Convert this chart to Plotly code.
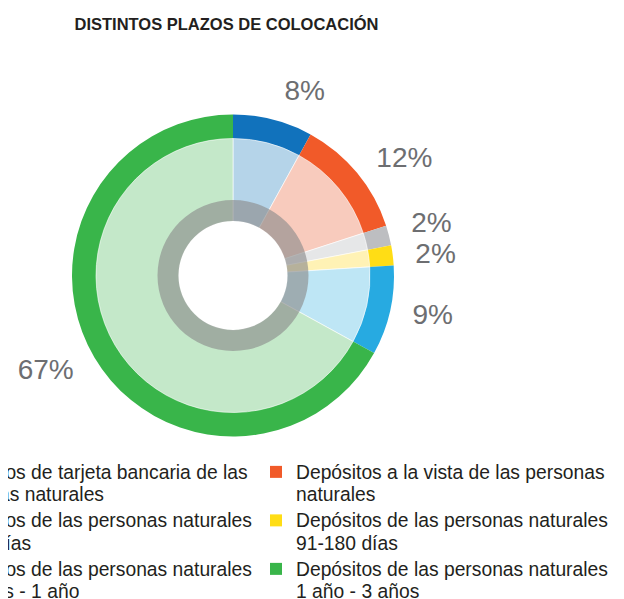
import plotly.graph_objects as go

FW, H = 800, 599          # figure is wider than the 624px window; extra area is off-screen
PLOT_BOTTOM = 446         # pixel y where plot area ends (legend hangs below it)

label_lines = [
    ("Depósitos de tarjeta bancaria de las", "personas naturales"),
    ("Depósitos a la vista de las personas", "naturales"),
    ("Depósitos de las personas naturales", "31-90 días"),
    ("Depósitos de las personas naturales", "91-180 días"),
    ("Depósitos de las personas naturales", "181 días - 1 año"),
    ("Depósitos de las personas naturales", "1 año - 3 años"),
]
values = [8, 12, 2, 2, 9, 67]
title_text = "DISTINTOS PLAZOS DE COLOCACIÓN"

outer_colors = ["#1172BC", "#F15A29", "#BDBEC1", "#FFDD15", "#27AAE1", "#39B54A"]
light_colors = ["#B5D4E9", "#F8CBBD", "#E6E7E8", "#FFF2B5", "#BEE6F5", "#C4E8C9"]
label_color = "#6D6E71"

# legend glyphs are drawn a bit larger than the (line-spacing) base font
span = '<span style="font-size:19.3px">{}</span>'
labels = ["<br>".join(span.format(t) for t in lines) for lines in label_lines]

cx, cy = 225, 267.5  # pixel centre of donut (figure coords)


def dom(r):
    return dict(x=[(cx - r) / FW, (cx + r) / FW],
                y=[(PLOT_BOTTOM - cy - r) / PLOT_BOTTOM, (PLOT_BOTTOM - cy + r) / PLOT_BOTTOM])


common = dict(labels=labels, values=values, sort=False, direction="clockwise",
              rotation=0, hoverinfo="skip")

fig = go.Figure()
fig.add_trace(go.Pie(**common, domain=dom(161), hole=136.5 / 161,
                     marker=dict(colors=outer_colors, line=dict(width=0)),
                     textinfo="none", showlegend=True))
fig.add_trace(go.Pie(**common, domain=dom(137), hole=54.5 / 137,
                     marker=dict(colors=light_colors, line=dict(color="white", width=0.6)),
                     textinfo="none", showlegend=False))
fig.add_trace(go.Pie(labels=["ring"], values=[1], domain=dom(75.5), hole=54.5 / 75.5, sort=False,
                     marker=dict(colors=["rgba(140,140,140,0.63)"], line=dict(width=0)),
                     textinfo="none", showlegend=False, hoverinfo="skip"))
# transparent pie carrying the percentage labels (text colour set via span so no leader line shows)
fig.add_trace(go.Pie(**common, domain=dom(176),
                     marker=dict(colors=["rgba(0,0,0,0)"] * 6, line=dict(width=0)),
                     texttemplate='<span style="color:' + label_color + ';fill-opacity:1">%{value}%</span>',
                     textposition="outside",
                     outsidetextfont=dict(family="Liberation Sans", size=28, color="rgba(0,0,0,0)"),
                     showlegend=False))

fig.update_layout(
    width=FW, height=H,
    margin=dict(l=0, r=0, t=0, b=H - PLOT_BOTTOM, autoexpand=False),
    paper_bgcolor="white", plot_bgcolor="white",
    title=dict(text=title_text, x=218.5 / FW, xanchor="center", y=1 - 16.5 / H, yanchor="middle",
               font=dict(family="Liberation Sans", size=16.5, color="#231F20", weight="bold")),
    legend=dict(orientation="h", x=-108 / FW, xanchor="left", y=0, yanchor="top",
                entrywidth=311, entrywidthmode="pixels", valign="top", maxheight=400,
                font=dict(family="Liberation Sans", size=17.5, color="#231F20"),
                traceorder="normal", bgcolor="rgba(0,0,0,0)"),
)

fig.write_html("out.html")
